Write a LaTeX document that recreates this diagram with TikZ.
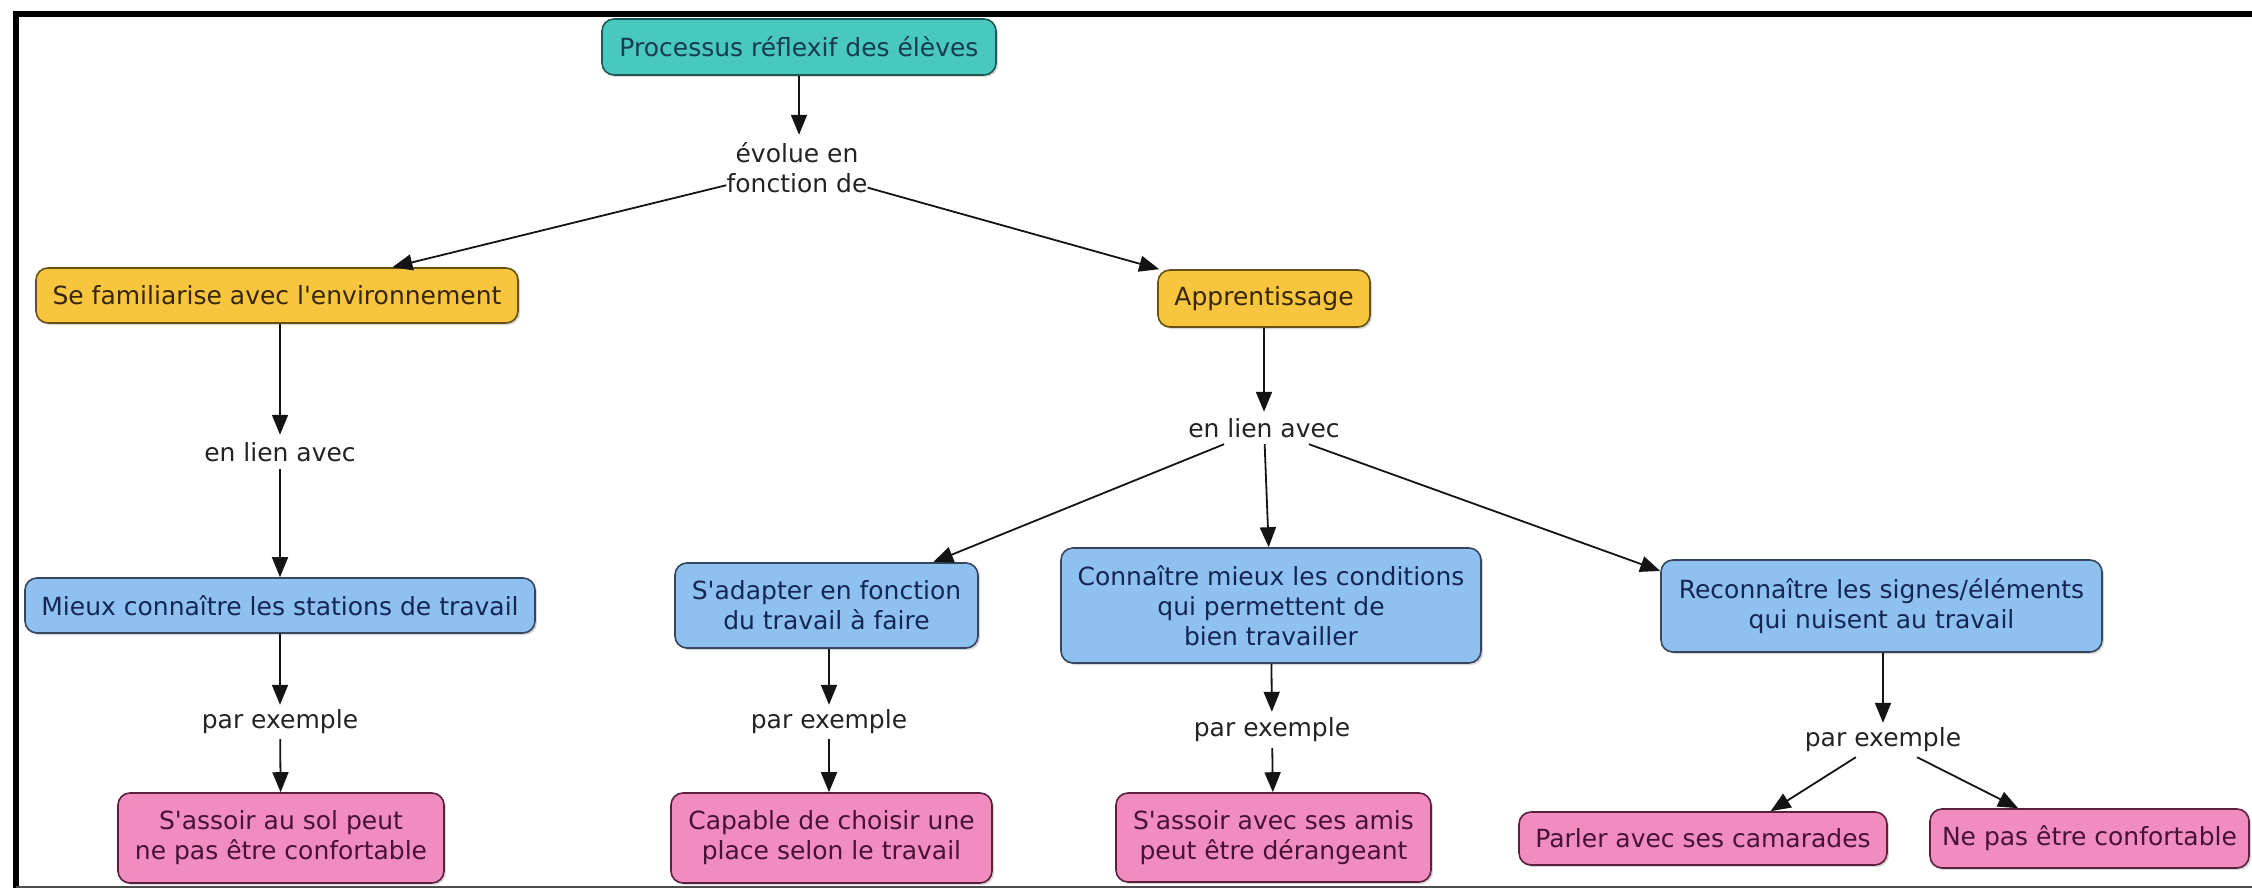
\documentclass[tikz,border=0pt]{standalone}
\usepackage{fontspec}
\newfontfamily\cmapfont{DejaVu Sans}
\usetikzlibrary{arrows.meta,shadows}
\definecolor{tealf}{RGB}{72,200,190}
\definecolor{tealb}{RGB}{30,90,85}
\definecolor{tealt}{RGB}{22,60,80}
\definecolor{yelf}{RGB}{247,198,62}
\definecolor{yelb}{RGB}{105,80,20}
\definecolor{yelt}{RGB}{55,38,10}
\definecolor{bluf}{RGB}{142,192,240}
\definecolor{blub}{RGB}{55,70,95}
\definecolor{blut}{RGB}{20,38,85}
\definecolor{pinf}{RGB}{240,140,192}
\definecolor{pinb}{RGB}{90,32,60}
\definecolor{pint}{RGB}{72,18,52}
\definecolor{labt}{RGB}{35,35,35}
\definecolor{arrc}{RGB}{20,20,20}
\begin{document}
\begin{tikzpicture}[x=1pt,y=-1pt,
  font=\cmapfont\fontsize{25}{30}\selectfont,
  concept/.style={draw, rounded corners=12pt, line width=1.6pt, align=center,
    inner sep=0pt, drop shadow={shadow xshift=2pt,shadow yshift=-2pt,opacity=0.3}},
  tealbox/.style={concept, fill=tealf, draw=tealb, text=tealt},
  yelbox/.style={concept, fill=yelf, draw=yelb, text=yelt},
  blubox/.style={concept, fill=bluf, draw=blub, text=blut},
  pinbox/.style={concept, fill=pinf, draw=pinb, text=pint},
  lbl/.style={align=center, inner sep=0pt, text=labt},
  arr/.style={-{Triangle[length=20pt,width=16pt]}, line width=1.8pt, draw=arrc}]
\useasboundingbox (0,0) rectangle (2252,888);
\fill[white] (0,0) rectangle (2252,888);
% frame
\draw[line width=6pt, black, line cap=rect] (15.5,888) -- (15.5,14) -- (2252,14);
\draw[line width=2pt, black!70] (15.5,886.5) -- (2252,886.5);
% concepts
\node[tealbox, minimum width=394pt, minimum height=56pt] (top) at (799,47) {Processus réflexif des élèves};
\node[yelbox, minimum width=482pt, minimum height=55pt] (fam) at (277,295.5) {Se familiarise avec l'environnement};
\node[yelbox, minimum width=212pt, minimum height=57pt] (app) at (1264,298.5) {Apprentissage};
\node[blubox, minimum width=510pt, minimum height=55pt] (mieux) at (280,605.5) {Mieux connaître les stations de travail};
\node[blubox, minimum width=303pt, minimum height=85pt] (adapt) at (826.5,605.5) {S'adapter en fonction\\du travail à faire};
\node[blubox, minimum width=420pt, minimum height=115pt] (conn) at (1271,605.5) {Connaître mieux les conditions\\qui permettent de\\bien travailler};
\node[blubox, minimum width=441pt, minimum height=92pt] (reco) at (1881.5,606) {Reconnaître les signes/éléments\\qui nuisent au travail};
\node[pinbox, minimum width=326pt, minimum height=90pt] (sol) at (281,838) {S'assoir au sol peut\\ne pas être confortable};
\node[pinbox, minimum width=321pt, minimum height=90pt] (capable) at (831.5,838) {Capable de choisir une\\place selon le travail};
\node[pinbox, minimum width=315pt, minimum height=89pt] (amis) at (1273.5,837.5) {S'assoir avec ses amis\\peut être dérangeant};
\node[pinbox, minimum width=368pt, minimum height=53pt] (parler) at (1703,838.5) {Parler avec ses camarades};
\node[pinbox, minimum width=319pt, minimum height=59pt] (nepas) at (2089.5,838.5) {Ne pas être confortable};
% linking phrases
\node[lbl, minimum height=66pt] (evolue) at (797,168) {évolue en\\fonction de};
\node[lbl, minimum height=34pt] (lien1) at (280,452) {en lien avec};
\node[lbl, minimum height=32pt] (lien2) at (1264,428) {en lien avec};
\node[lbl, minimum height=34pt] (ex1) at (280,722) {par exemple};
\node[lbl, minimum height=34pt] (ex2) at (829,722) {par exemple};
\node[lbl, minimum height=36pt] (ex3) at (1272,730) {par exemple};
\node[lbl, minimum height=34pt] (ex4) at (1883,740) {par exemple};
% connectors
\draw[arr] (top) -- (top |- evolue.north);
\draw[arr] (evolue) -- (fam);
\draw[arr] (evolue) -- (app);
\draw[arr] (lien1 |- fam.south) -- (lien1);
\draw[arr] (lien1) -- (mieux);
\draw[arr] (app) -- (lien2);
\draw[arr] (lien2) -- (adapt);
\draw[arr] (lien2) -- (conn);
\draw[arr] (lien2) -- (reco.171);
\draw[arr] (mieux) -- (ex1);
\draw[arr] (ex1) -- (sol);
\draw[arr] (ex2 |- adapt.south) -- (ex2);
\draw[arr] (ex2) -- (ex2 |- capable.north);
\draw[arr] (conn) -- (ex3);
\draw[arr] (ex3) -- (amis);
\draw[arr] (ex4 |- reco.south) -- (ex4);
\draw[arr] (ex4) -- (parler.22.5);
\draw[arr] (ex4) -- (nepas.157.5);
\end{tikzpicture}
\end{document}
